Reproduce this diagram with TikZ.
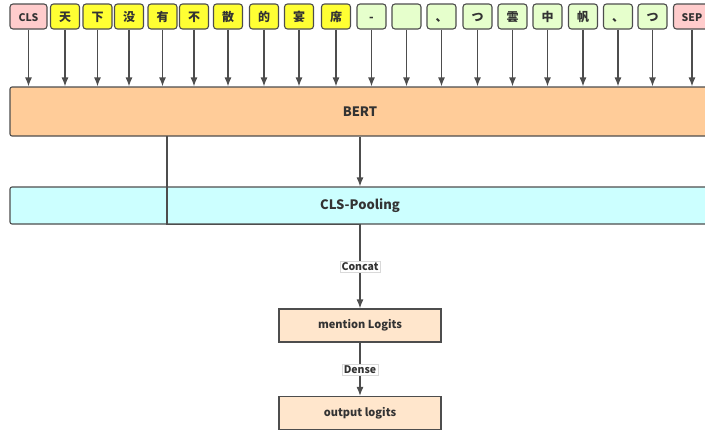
\documentclass[tikz,border=0pt]{standalone}
\usepackage{fontspec}
\setmainfont{Noto Sans CJK SC}
\usetikzlibrary{arrows.meta}

\definecolor{linegray}{HTML}{4D4D4D}
\definecolor{textgray}{HTML}{333333}
\definecolor{pinkfill}{HTML}{FFCCCC}
\definecolor{yellowfill}{HTML}{FFFF33}
\definecolor{greenfill}{HTML}{E6FFCC}
\definecolor{bertfill}{HTML}{FFCC99}
\definecolor{poolfill}{HTML}{CCFFFF}
\definecolor{logitfill}{HTML}{FFE6CC}

\begin{document}
\begin{tikzpicture}[x=1pt, y=-1pt,
    token/.style={rectangle, rounded corners=3pt, draw=linegray, line width=1.1pt, minimum width=29pt, minimum height=25pt, inner sep=0pt, text height=9pt, text depth=0pt, text=textgray, font=\fontsize{12}{12}\selectfont\bfseries},
    special/.style={token, fill=pinkfill, minimum width=37pt, font=\fontsize{10.5}{10.5}\selectfont\bfseries},
    word/.style={token, fill=yellowfill},
    rest/.style={token, fill=greenfill},
    layer/.style={rectangle, rounded corners=2pt, draw=linegray, line width=1.1pt, minimum width=700pt, inner sep=0pt, text=textgray, font=\fontsize{13}{13}\selectfont\bfseries},
    head/.style={rectangle, draw=linegray, line width=1.1pt, minimum width=162pt, minimum height=33pt, fill=logitfill, inner sep=0pt, text=textgray, font=\fontsize{11}{11}\selectfont\bfseries},
    edgelabel/.style={rectangle, fill=white, draw=black!15, line width=0.4pt, inner sep=1.5pt, text=textgray, font=\fontsize{10.5}{10.5}\selectfont\bfseries},
    link/.style={-{Latex[length=9pt, width=7pt]}, draw=linegray, line width=1.3pt}]
    \useasboundingbox (0,0) rectangle (705,431);
    \clip (0,0) rectangle (705,431);

    % input tokens
    \node at (28.5,16.5) [special] (CLS) {CLS};
    \node at (65,16.5) [word] (Tian) {天};
    \node at (97.5,16.5) [word] (Xia) {下};
    \node at (129,16.5) [word] (Mei) {没};
    \node at (162.5,16.5) [word] (You) {有};
    \node at (194,16.5) [word] (Bu) {不};
    \node at (228,16.5) [word] (San) {散};
    \node at (264,16.5) [word] (De) {的};
    \node at (299,16.5) [word] (Yan) {宴};
    \node at (336,16.5) [word] (Xi) {席};
    \node at (371.5,16.5) [rest] (Dash) {-};
    \node at (406.5,16.5) [rest] (Blank) {};
    \node at (441.5,16.5) [rest] (CommaA) {、};
    \node at (477.5,16.5) [rest] (TsuA) {つ};
    \node at (512.5,16.5) [rest] (Yun) {雲};
    \node at (547.5,16.5) [rest] (Zhong) {中};
    \node at (583,16.5) [rest] (Fan) {帆};
    \node at (618,16.5) [rest] (CommaB) {、};
    \node at (652.5,16.5) [rest] (TsuB) {つ};
    \node at (692,16.5) [special] (SEP) {SEP};

    % layers
    \node at (360,111.5) [layer, fill=bertfill, minimum height=49pt] (BERT) {BERT};
    \node at (360,205.5) [layer, fill=poolfill, minimum height=37pt] (Pooling) {CLS-Pooling};
    \node at (360,325.5) [head] (Mention) {mention Logits};
    \node at (360,413) [head] (Output) {output logits};

    % token arrows
    \draw[link] (CLS) -- (CLS |- BERT.north);
    \draw[link] (Tian) -- (Tian |- BERT.north);
    \draw[link] (Xia) -- (Xia |- BERT.north);
    \draw[link] (Mei) -- (Mei |- BERT.north);
    \draw[link] (You) -- (You |- BERT.north);
    \draw[link] (Bu) -- (Bu |- BERT.north);
    \draw[link] (San) -- (San |- BERT.north);
    \draw[link] (De) -- (De |- BERT.north);
    \draw[link] (Yan) -- (Yan |- BERT.north);
    \draw[link] (Xi) -- (Xi |- BERT.north);
    \draw[link] (Dash) -- (Dash |- BERT.north);
    \draw[link] (Blank) -- (Blank |- BERT.north);
    \draw[link] (CommaA) -- (CommaA |- BERT.north);
    \draw[link] (TsuA) -- (TsuA |- BERT.north);
    \draw[link] (Yun) -- (Yun |- BERT.north);
    \draw[link] (Zhong) -- (Zhong |- BERT.north);
    \draw[link] (Fan) -- (Fan |- BERT.north);
    \draw[link] (CommaB) -- (CommaB |- BERT.north);
    \draw[link] (TsuB) -- (TsuB |- BERT.north);
    \draw[link] (SEP) -- (SEP |- BERT.north);

    % BERT to pooling and heads
    \coordinate (Tap) at (167,136);
    \draw[link] (BERT) -- (Pooling);
    \draw[link] (Tap) |- (Pooling.south) -- (Mention) node[midway, edgelabel] {Concat};
    \draw[link] (Mention) -- (Output) node[midway, edgelabel] {Dense};
\end{tikzpicture}
\end{document}
